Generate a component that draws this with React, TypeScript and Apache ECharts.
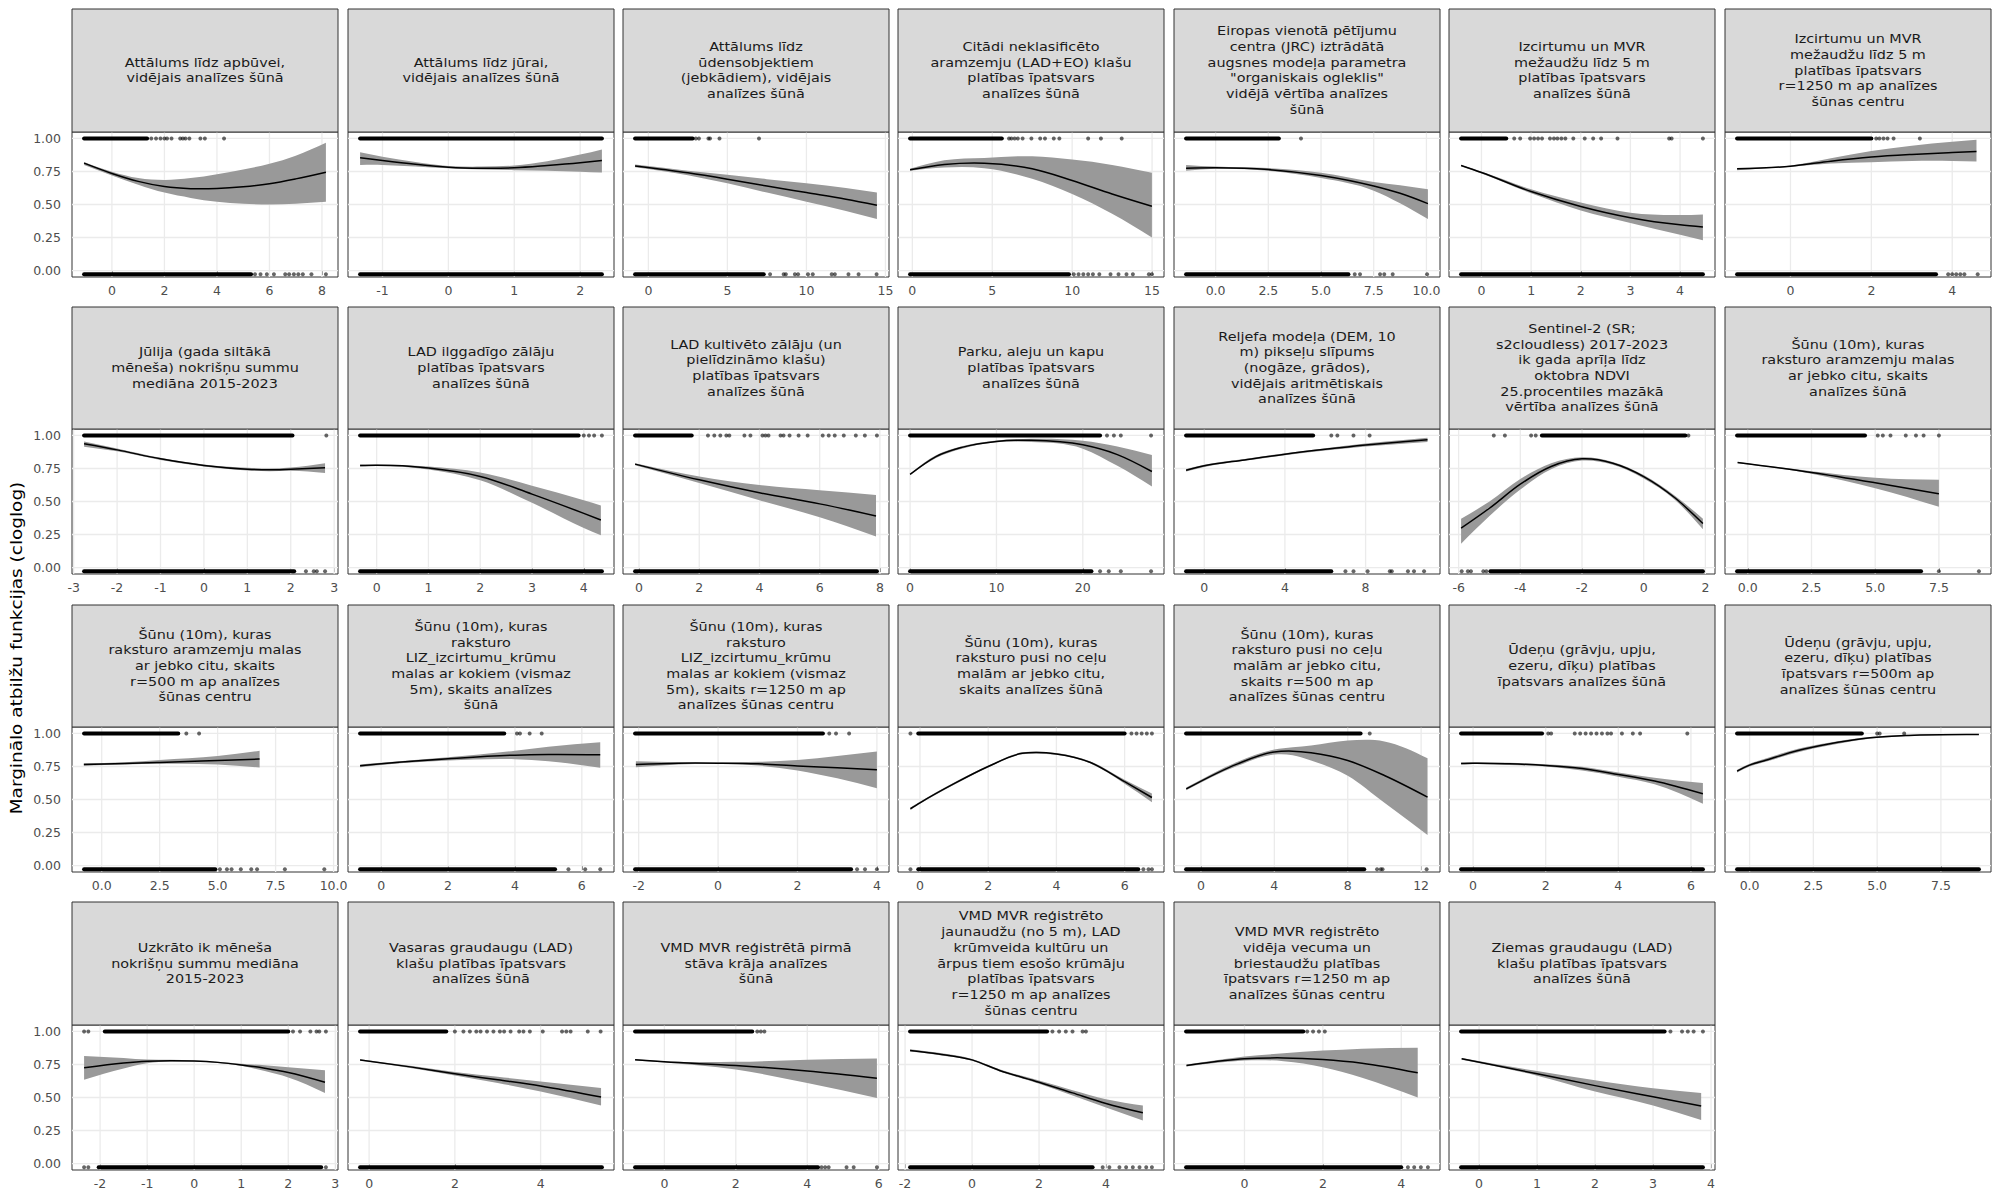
import React, { useEffect, useRef } from "react";
import * as echarts from "echarts";

// ---------------- DATA ----------------
const facetTitles: string[] = [
  "Attālums līdz apbūvei,\nvidējais analīzes šūnā",
  "Attālums līdz jūrai,\nvidējais analīzes šūnā",
  "Attālums līdz\nūdensobjektiem\n(jebkādiem), vidējais\nanalīzes šūnā",
  "Citādi neklasificēto\naramzemju (LAD+EO) klašu\nplatības īpatsvars\nanalīzes šūnā",
  "Eiropas vienotā pētījumu\ncentra (JRC) iztrādātā\naugsnes modeļa parametra\n\"organiskais ogleklis\"\nvidējā vērtība analīzes\nšūnā",
  "Izcirtumu un MVR\nmežaudžu līdz 5 m\nplatības īpatsvars\nanalīzes šūnā",
  "Izcirtumu un MVR\nmežaudžu līdz 5 m\nplatības īpatsvars\nr=1250 m ap analīzes\nšūnas centru",
  "Jūlija (gada siltākā\nmēneša) nokrišņu summu\nmediāna 2015-2023",
  "LAD ilggadīgo zālāju\nplatības īpatsvars\nanalīzes šūnā",
  "LAD kultivēto zālāju (un\npielīdzināmo klašu)\nplatības īpatsvars\nanalīzes šūnā",
  "Parku, aleju un kapu\nplatības īpatsvars\nanalīzes šūnā",
  "Reljefa modeļa (DEM, 10\nm) pikseļu slīpums\n(nogāze, grādos),\nvidējais aritmētiskais\nanalīzes šūnā",
  "Sentinel-2 (SR;\ns2cloudless) 2017-2023\nik gada aprīļa līdz\noktobra NDVI\n25.procentiles mazākā\nvērtība analīzes šūnā",
  "Šūnu (10m), kuras\nraksturo aramzemju malas\nar jebko citu, skaits\nanalīzes šūnā",
  "Šūnu (10m), kuras\nraksturo aramzemju malas\nar jebko citu, skaits\nr=500 m ap analīzes\nšūnas centru",
  "Šūnu (10m), kuras\nraksturo\nLIZ_izcirtumu_krūmu\nmalas ar kokiem (vismaz\n5m), skaits analīzes\nšūnā",
  "Šūnu (10m), kuras\nraksturo\nLIZ_izcirtumu_krūmu\nmalas ar kokiem (vismaz\n5m), skaits r=1250 m ap\nanalīzes šūnas centru",
  "Šūnu (10m), kuras\nraksturo pusi no ceļu\nmalām ar jebko citu,\nskaits analīzes šūnā",
  "Šūnu (10m), kuras\nraksturo pusi no ceļu\nmalām ar jebko citu,\nskaits r=500 m ap\nanalīzes šūnas centru",
  "Ūdeņu (grāvju, upju,\nezeru, dīķu) platības\nīpatsvars analīzes šūnā",
  "Ūdeņu (grāvju, upju,\nezeru, dīķu) platības\nīpatsvars r=500m ap\nanalīzes šūnas centru",
  "Uzkrāto ik mēneša\nnokrišņu summu mediāna\n2015-2023",
  "Vasaras graudaugu (LAD)\nklašu platības īpatsvars\nanalīzes šūnā",
  "VMD MVR reģistrētā pirmā\nstāva krāja analīzes\nšūnā",
  "VMD MVR reģistrēto\njaunaudžu (no 5 m), LAD\nkrūmveida kultūru un\nārpus tiem esošo krūmāju\nplatības īpatsvars\nr=1250 m ap analīzes\nšūnas centru",
  "VMD MVR reģistrēto\nvidēja vecuma un\nbriestaudžu platības\nīpatsvars r=1250 m ap\nanalīzes šūnas centru",
  "Ziemas graudaugu (LAD)\nklašu platības īpatsvars\nanalīzes šūnā",
];

const xTicks: number[][] = [
  [0, 2, 4, 6, 8],
  [-1, 0, 1, 2],
  [0, 5, 10, 15],
  [0, 5, 10, 15],
  [0, 2.5, 5, 7.5, 10],
  [0, 1, 2, 3, 4],
  [0, 2, 4],
  [-3, -2, -1, 0, 1, 2, 3],
  [0, 1, 2, 3, 4],
  [0, 2, 4, 6, 8],
  [0, 10, 20],
  [0, 4, 8],
  [-6, -4, -2, 0, 2],
  [0, 2.5, 5, 7.5],
  [0, 2.5, 5, 7.5, 10],
  [0, 2, 4, 6],
  [-2, 0, 2, 4],
  [0, 2, 4, 6],
  [0, 4, 8, 12],
  [0, 2, 4, 6],
  [0, 2.5, 5, 7.5],
  [-2, -1, 0, 1, 2, 3],
  [0, 2, 4],
  [0, 2, 4, 6],
  [-2, 0, 2, 4],
  [0, 2, 4],
  [0, 1, 2, 3, 4],
];

const xTickDecimals: number[] = [
  0, 0, 0, 0, 1, 0, 0,
  0, 0, 0, 0, 0, 0, 1,
  1, 0, 0, 0, 0, 0, 1,
  0, 0, 0, 0, 0, 0,
];

// data extent of each facet's x variable (axis limits add 5 % on each side)
const xExtent: [number, number][] = [
  [-1.06, 8.15], [-1.34, 2.33], [-0.84, 14.46], [-0.14, 14.99], [-1.4, 10.07], [-0.41, 4.46], [-1.32, 4.66],
  [-2.76, 2.81], [-0.32, 4.35], [-0.13, 7.9], [0, 28], [-0.9, 11.09], [-5.92, 1.92], [-0.42, 9.07],
  [-0.76, 9.67], [-0.63, 6.6], [-2.09, 4.0], [-0.29, 6.8], [-0.81, 12.37], [-0.33, 6.33], [-0.49, 8.99],
  [-2.34, 2.8], [-0.21, 5.43], [-0.82, 5.95], [-1.85, 5.37], [-1.49, 4.68], [-0.31, 3.86],
];

// marginal response: [x, fit, lower, upper]
const fits: number[][][] = [
  [[-1.06, 0.813, 0.8, 0.822], [0, 0.735, 0.72, 0.748], [1, 0.675, 0.65, 0.7], [2, 0.636, 0.59, 0.685], [3, 0.62, 0.55, 0.7], [4, 0.621, 0.52, 0.73], [5, 0.634, 0.505, 0.765], [6, 0.657, 0.5, 0.808], [7, 0.694, 0.505, 0.87], [8.15, 0.745, 0.52, 0.967]],
  [[-1.34, 0.854, 0.8, 0.896], [-1, 0.833, 0.8, 0.862], [-0.5, 0.805, 0.788, 0.822], [0, 0.783, 0.775, 0.792], [0.5, 0.775, 0.765, 0.787], [1, 0.778, 0.76, 0.795], [1.5, 0.795, 0.755, 0.828], [2, 0.816, 0.748, 0.878], [2.33, 0.833, 0.742, 0.917]],
  [[-0.84, 0.792, 0.782, 0.802], [2.5, 0.74, 0.722, 0.756], [5, 0.692, 0.66, 0.725], [7.5, 0.64, 0.59, 0.692], [10, 0.59, 0.52, 0.66], [12.5, 0.54, 0.45, 0.625], [14.46, 0.495, 0.39, 0.59]],
  [[-0.14, 0.763, 0.755, 0.77], [2, 0.803, 0.78, 0.835], [4.5, 0.813, 0.775, 0.853], [7.5, 0.77, 0.695, 0.865], [10, 0.682, 0.58, 0.84], [12.5, 0.58, 0.43, 0.8], [14.99, 0.487, 0.25, 0.74]],
  [[-1.4, 0.775, 0.755, 0.8], [0, 0.778, 0.77, 0.787], [2.5, 0.765, 0.755, 0.776], [5, 0.72, 0.7, 0.74], [7.5, 0.64, 0.605, 0.67], [8.75, 0.585, 0.51, 0.645], [10.07, 0.507, 0.39, 0.615]],
  [[-0.41, 0.795, 0.79, 0.8], [0, 0.742, 0.735, 0.75], [1, 0.598, 0.585, 0.615], [2, 0.485, 0.455, 0.515], [3, 0.4, 0.36, 0.437], [4, 0.346, 0.27, 0.42], [4.46, 0.33, 0.23, 0.425]],
  [[-1.32, 0.77, 0.76, 0.777], [0, 0.79, 0.785, 0.795], [1, 0.828, 0.81, 0.85], [2, 0.859, 0.82, 0.905], [3, 0.879, 0.83, 0.945], [4, 0.894, 0.83, 0.975], [4.6, 0.902, 0.825, 0.99]],
  [[-2.76, 0.937, 0.915, 0.955], [-2, 0.891, 0.88, 0.902], [-1, 0.823, 0.815, 0.831], [0, 0.773, 0.765, 0.781], [1, 0.745, 0.735, 0.755], [1.5, 0.74, 0.73, 0.75], [2, 0.745, 0.733, 0.757], [2.79, 0.755, 0.715, 0.79]],
  [[-0.32, 0.773, 0.765, 0.78], [0, 0.775, 0.77, 0.78], [0.5, 0.77, 0.763, 0.777], [1, 0.753, 0.742, 0.765], [2, 0.69, 0.66, 0.72], [3, 0.556, 0.49, 0.62], [4, 0.41, 0.3, 0.51], [4.33, 0.36, 0.245, 0.47]],
  [[-0.13, 0.783, 0.775, 0.79], [2, 0.664, 0.64, 0.69], [4, 0.566, 0.51, 0.625], [6, 0.482, 0.38, 0.585], [7.87, 0.391, 0.235, 0.55]],
  [[0, 0.705, 0.7, 0.71], [3, 0.84, 0.83, 0.85], [6, 0.91, 0.9, 0.918], [10, 0.955, 0.948, 0.962], [14, 0.963, 0.95, 0.975], [20, 0.929, 0.9, 0.96], [24, 0.855, 0.77, 0.917], [28, 0.727, 0.614, 0.853]],
  [[-0.9, 0.737, 0.728, 0.746], [0, 0.77, 0.762, 0.778], [2, 0.815, 0.808, 0.822], [4, 0.858, 0.85, 0.866], [6, 0.895, 0.886, 0.904], [8, 0.928, 0.917, 0.939], [10, 0.955, 0.94, 0.968], [11.07, 0.967, 0.95, 0.982]],
  [[-5.92, 0.298, 0.18, 0.37], [-5, 0.449, 0.39, 0.5], [-4, 0.631, 0.59, 0.67], [-3, 0.765, 0.745, 0.79], [-2, 0.823, 0.81, 0.835], [-1, 0.79, 0.778, 0.8], [0, 0.689, 0.675, 0.7], [1, 0.53, 0.515, 0.545], [1.92, 0.333, 0.29, 0.37]],
  [[-0.4, 0.795, 0.79, 0.8], [2.5, 0.72, 0.71, 0.73], [5, 0.642, 0.6, 0.68], [7.5, 0.558, 0.46, 0.664]],
  [[-0.77, 0.765, 0.755, 0.775], [1, 0.772, 0.765, 0.782], [2.5, 0.78, 0.77, 0.8], [5, 0.795, 0.765, 0.83], [6.81, 0.806, 0.742, 0.869]],
  [[-0.63, 0.755, 0.745, 0.765], [0, 0.77, 0.762, 0.778], [2, 0.808, 0.795, 0.82], [4, 0.836, 0.805, 0.87], [5, 0.84, 0.79, 0.9], [6.55, 0.838, 0.74, 0.934]],
  [[-2.07, 0.765, 0.745, 0.79], [-1, 0.775, 0.765, 0.783], [0, 0.775, 0.77, 0.78], [1, 0.77, 0.757, 0.785], [2, 0.753, 0.72, 0.8], [3, 0.74, 0.66, 0.83], [4, 0.725, 0.585, 0.864]],
  [[-0.28, 0.43, 0.42, 0.44], [0, 0.475, 0.467, 0.483], [1, 0.62, 0.612, 0.628], [2, 0.75, 0.743, 0.757], [3, 0.85, 0.843, 0.857], [3.4, 0.856, 0.849, 0.863], [4, 0.845, 0.838, 0.852], [5, 0.78, 0.772, 0.788], [6, 0.635, 0.62, 0.65], [6.8, 0.515, 0.48, 0.545]],
  [[-0.8, 0.58, 0.57, 0.59], [2, 0.77, 0.755, 0.785], [4, 0.86, 0.84, 0.878], [5, 0.866, 0.835, 0.895], [6, 0.854, 0.795, 0.909], [8, 0.795, 0.68, 0.947], [10, 0.682, 0.475, 0.94], [12.35, 0.518, 0.232, 0.813]],
  [[-0.33, 0.773, 0.765, 0.78], [0, 0.775, 0.768, 0.782], [1, 0.77, 0.762, 0.778], [2, 0.758, 0.75, 0.767], [3, 0.735, 0.72, 0.748], [4, 0.69, 0.673, 0.705], [5, 0.64, 0.615, 0.665], [6.33, 0.543, 0.467, 0.624]],
  [[-0.49, 0.715, 0.705, 0.725], [0, 0.76, 0.75, 0.77], [0.63, 0.797, 0.785, 0.81], [1.9, 0.871, 0.858, 0.884], [3.1, 0.92, 0.908, 0.93], [4.4, 0.96, 0.952, 0.967], [6.25, 0.985, 0.98, 0.99], [8.99, 0.992, 0.988, 0.995]],
  [[-2.34, 0.725, 0.635, 0.815], [-1.5, 0.762, 0.72, 0.8], [-1, 0.775, 0.76, 0.787], [-0.5, 0.779, 0.772, 0.785], [0, 0.776, 0.772, 0.78], [0.5, 0.766, 0.762, 0.77], [1, 0.747, 0.74, 0.755], [1.5, 0.722, 0.7, 0.745], [2, 0.69, 0.652, 0.73], [2.78, 0.616, 0.535, 0.707]],
  [[-0.21, 0.785, 0.78, 0.79], [1, 0.73, 0.722, 0.738], [2, 0.68, 0.667, 0.694], [3, 0.634, 0.61, 0.657], [4, 0.587, 0.545, 0.622], [5.41, 0.503, 0.44, 0.571]],
  [[-0.82, 0.785, 0.78, 0.79], [0, 0.77, 0.765, 0.775], [2, 0.742, 0.712, 0.77], [4, 0.7, 0.61, 0.785], [5.95, 0.646, 0.497, 0.795]],
  [[-1.85, 0.856, 0.848, 0.865], [-1, 0.83, 0.822, 0.838], [0, 0.785, 0.778, 0.792], [0.82, 0.705, 0.697, 0.713], [2, 0.616, 0.605, 0.628], [3, 0.535, 0.515, 0.555], [4, 0.455, 0.425, 0.487], [5.1, 0.384, 0.325, 0.44]],
  [[-1.48, 0.742, 0.735, 0.75], [-0.5, 0.78, 0.768, 0.792], [0, 0.793, 0.78, 0.81], [1, 0.8, 0.775, 0.835], [2, 0.788, 0.73, 0.855], [3, 0.76, 0.65, 0.87], [4.42, 0.687, 0.5, 0.876]],
  [[-0.3, 0.793, 0.785, 0.8], [1, 0.68, 0.665, 0.7], [2, 0.59, 0.545, 0.63], [3, 0.505, 0.44, 0.57], [3.83, 0.435, 0.33, 0.535]],
];

// observations (presence = 1, absence = 0): dense runs and isolated points
const topDense: [number, number][] = [
  [-1.06, 1.34], [-1.34, 2.33], [-0.84, 2.8], [-0.14, 5.6], [-1.4, 3.0], [-0.41, 0.5], [-1.32, 2.0],
  [-2.76, 2.04], [-0.32, 3.9], [-0.13, 1.75], [0, 22], [-0.9, 5.4], [-3.3, 1.35], [-0.42, 4.6],
  [-0.76, 3.3], [-0.63, 3.68], [-2.09, 2.64], [-0.05, 6.0], [-0.81, 8.7], [-0.33, 1.9], [-0.49, 4.4],
  [-1.9, 2.0], [-0.21, 1.8], [-0.82, 2.46], [-1.85, 2.24], [-1.49, 1.5], [-0.31, 3.2],
];
const topSparse: number[][] = [
  [1.5, 1.68, 1.85, 2.0, 2.1, 2.27, 2.6, 2.7, 2.8, 2.95, 3.37, 3.54, 4.27],
  [],
  [3.0, 3.2, 3.8, 3.9, 4.5, 7.0],
  [6.05, 6.2, 6.4, 6.6, 6.9, 7.45, 8.0, 8.3, 8.85, 9.2, 11.0, 11.8, 13.1],
  [4.05],
  [0.66, 0.78, 0.98, 1.06, 1.14, 1.22, 1.38, 1.46, 1.53, 1.61, 1.69, 1.85, 2.08, 2.25, 2.41, 2.74, 3.78, 3.83, 4.46],
  [2.12, 2.2, 2.3, 2.4, 2.55, 3.2],
  [2.82],
  [4.0, 4.1, 4.2, 4.35],
  [2.29, 2.5, 2.7, 2.9, 3.0, 3.5, 3.7, 4.1, 4.2, 4.3, 4.7, 4.8, 5.0, 5.3, 5.6, 6.1, 6.3, 6.5, 6.8, 7.2, 7.5, 7.9],
  [22.8, 23.6, 24.4, 27.9],
  [6.3, 6.6, 7.4, 8.2],
  [-4.86, -4.5, -3.65, -3.5, 1.45],
  [5.1, 5.3, 5.6, 6.2, 6.6, 6.9, 7.5],
  [3.65, 4.2],
  [4.06, 4.15, 4.44, 4.8],
  [2.8, 2.97, 3.3],
  [-0.28, 6.2, 6.35, 6.5, 6.65, 6.8],
  [9.2],
  [2.07, 2.15, 2.8, 2.95, 3.1, 3.25, 3.4, 3.55, 3.7, 3.8, 4.1, 4.4, 4.6, 5.9],
  [5.0, 5.1, 6.06],
  [-2.34, -2.25, 2.1, 2.25, 2.47, 2.6, 2.66, 2.8],
  [2.0, 2.2, 2.35, 2.5, 2.6, 2.75, 2.9, 3.05, 3.15, 3.3, 3.5, 3.6, 3.75, 4.05, 4.5, 4.6, 4.7, 5.1, 5.4],
  [2.6, 2.7, 2.8],
  [2.4, 2.6, 2.8, 3.0, 3.3, 3.4],
  [1.6, 1.75, 1.9, 2.05],
  [3.3, 3.5, 3.6, 3.7, 3.86],
];
const bottomDense: [number, number][] = [
  [-1.06, 5.3], [-1.34, 2.33], [-0.84, 7.3], [-0.14, 9.8], [-1.4, 6.3], [-0.41, 4.46], [-1.32, 3.6],
  [-2.76, 2.08], [-0.32, 4.35], [-0.13, 7.9], [0, 21], [-0.9, 6.3], [-4.97, 1.92], [-0.42, 6.8],
  [-0.76, 4.9], [-0.63, 5.2], [-2.09, 3.35], [-0.05, 6.4], [-0.81, 8.9], [-0.33, 6.33], [-0.49, 8.99],
  [-2.03, 2.7], [-0.21, 5.43], [-0.82, 4.3], [-1.85, 3.6], [-1.49, 4.0], [-0.31, 3.86],
];
const bottomSparse: number[][] = [
  [5.45, 5.66, 5.9, 6.17, 6.6, 6.75, 6.93, 7.1, 7.27, 7.6, 8.15],
  [],
  [7.7, 8.56, 8.7, 9.27, 9.47, 10.1, 10.4, 11.6, 11.8, 12.66, 13.3, 14.44],
  [10.1, 10.4, 10.7, 11.0, 11.3, 11.7, 12.4, 12.9, 13.4, 13.8, 14.8, 14.99],
  [6.6, 6.85, 7.8, 8.0, 8.4, 10.03],
  [],
  [3.9, 4.0, 4.1, 4.2, 4.3, 4.63],
  [2.35, 2.53, 2.6, 2.79],
  [],
  [],
  [22, 23, 24.4, 27.9],
  [7.0, 7.4, 8.1, 9.2, 9.3, 10.1, 10.4, 10.9],
  [-5.9, -5.7, -5.6, -5.2, -5.1],
  [7.5, 9.07],
  [5.1, 5.4, 5.6, 6.0, 6.45, 6.7, 7.9, 9.6],
  [5.6, 6.1, 6.55],
  [3.5, 3.7, 4.0],
  [-0.28, 6.55, 6.7, 6.8],
  [9.6, 9.8, 9.9, 12.3],
  [],
  [],
  [-2.34, -2.25, 2.8],
  [],
  [4.4, 4.5, 4.6, 5.1, 5.3, 5.95],
  [3.9, 4.1, 4.4, 4.6, 4.8, 5.0, 5.2, 5.37],
  [4.17, 4.33, 4.5, 4.68],
  [],
];

const yTicks: number[] = [0, 0.25, 0.5, 0.75, 1];
const yAxisTitle = "Marginālo atbilžu funkcijas (cloglog)";
const presenceY = 1;
const absenceY = -0.028;

// ---------------- LAYOUT ----------------
const N_COLS = 7;
const COL_LEFT0 = 72.3;
const COL_PITCH = 275.4;
const PANEL_W = 266;
const ROW_TOP0 = 9.3;
const ROW_PITCH = 297.7;
const STRIP_H = 122.3;
const PLOT_H = 145;
const Y_MIN = -0.049;
const Y_MAX = 1.049;
const FONT = "DejaVu Sans";

// ---------- smooth drawing helpers (cubic through pixel points) ----------
function tangents(pts: number[][]): number[] {
  const n = pts.length;
  const t: number[] = new Array(n).fill(0);
  if (n < 2) return t;
  const h: number[] = [];
  const s: number[] = [];
  for (let i = 0; i < n - 1; i++) {
    h[i] = pts[i + 1][0] - pts[i][0];
    s[i] = h[i] !== 0 ? (pts[i + 1][1] - pts[i][1]) / h[i] : 0;
  }
  if (n === 2) {
    t[0] = s[0];
    t[1] = s[0];
    return t;
  }
  for (let i = 1; i < n - 1; i++) {
    t[i] = (s[i - 1] * h[i] + s[i] * h[i - 1]) / (h[i - 1] + h[i]);
  }
  t[0] = (3 * s[0] - t[1]) / 2;
  t[n - 1] = (3 * s[n - 2] - t[n - 2]) / 2;
  return t;
}

function traceForward(ctx: any, pts: number[][], move: boolean) {
  const n = pts.length;
  if (n === 0) return;
  const t = tangents(pts);
  if (move) ctx.moveTo(pts[0][0], pts[0][1]);
  else ctx.lineTo(pts[0][0], pts[0][1]);
  for (let i = 0; i < n - 1; i++) {
    const dx = (pts[i + 1][0] - pts[i][0]) / 3;
    ctx.bezierCurveTo(
      pts[i][0] + dx, pts[i][1] + t[i] * dx,
      pts[i + 1][0] - dx, pts[i + 1][1] - t[i + 1] * dx,
      pts[i + 1][0], pts[i + 1][1]
    );
  }
}

function traceBackward(ctx: any, pts: number[][]) {
  const n = pts.length;
  if (n === 0) return;
  const t = tangents(pts);
  ctx.lineTo(pts[n - 1][0], pts[n - 1][1]);
  for (let i = n - 2; i >= 0; i--) {
    const dx = (pts[i + 1][0] - pts[i][0]) / 3;
    ctx.bezierCurveTo(
      pts[i + 1][0] - dx, pts[i + 1][1] - t[i + 1] * dx,
      pts[i][0] + dx, pts[i][1] + t[i] * dx,
      pts[i][0], pts[i][1]
    );
  }
}

const SmoothCurve = (echarts as any).graphic.extendShape({
  type: "smoothCurve",
  shape: { points: [] as number[][] },
  buildPath(ctx: any, shape: any) {
    const pts = shape.points;
    if (!pts || pts.length < 2) return;
    traceForward(ctx, pts, true);
  },
});
const SmoothBand = (echarts as any).graphic.extendShape({
  type: "smoothBand",
  shape: { upper: [] as number[][], lower: [] as number[][] },
  buildPath(ctx: any, shape: any) {
    const up = shape.upper;
    const lo = shape.lower;
    if (!up || up.length < 2) return;
    traceForward(ctx, up, true);
    traceBackward(ctx, lo);
    ctx.closePath();
  },
});
(echarts as any).graphic.registerShape("smoothCurve", SmoothCurve);
(echarts as any).graphic.registerShape("smoothBand", SmoothBand);

function buildOption() {
  const grids: any[] = [];
  const xAxes: any[] = [];
  const yAxes: any[] = [];
  const series: any[] = [];
  const graphics: any[] = [];

  facetTitles.forEach((title, i) => {
    const col = i % N_COLS;
    const row = Math.floor(i / N_COLS);
    const left = Math.round(COL_LEFT0 + col * COL_PITCH);
    const stripTop = Math.round(ROW_TOP0 + row * ROW_PITCH);
    const plotTop = Math.round(ROW_TOP0 + row * ROW_PITCH + STRIP_H);
    const [lo, hi] = xExtent[i];
    const pad = 0.05 * (hi - lo);
    const xMin = lo - pad;
    const xMax = hi + pad;
    const ticks = xTicks[i].filter((v) => v >= xMin && v <= xMax);
    const dec = xTickDecimals[i];

    grids.push({
      left,
      top: plotTop,
      width: PANEL_W,
      height: PLOT_H,
      show: true,
      borderColor: "#333333",
      borderWidth: 1,
      backgroundColor: "#ffffff",
      containLabel: false,
      outerBoundsMode: "none",
    });

    xAxes.push({
      type: "value",
      gridIndex: i,
      min: xMin,
      max: xMax,
      axisLine: { show: false },
      splitLine: { show: false },
      axisTick: {
        show: true,
        customValues: ticks,
        length: 4.5,
        lineStyle: { color: "#333333", width: 1 },
      },
      axisLabel: {
        show: true,
        customValues: ticks,
        formatter: (v: number) => v.toFixed(dec),
        color: "#4D4D4D",
        fontSize: 12.5,
        fontFamily: FONT,
        margin: 7,
      },
    });

    const firstCol = col === 0;
    yAxes.push({
      type: "value",
      gridIndex: i,
      min: Y_MIN,
      max: Y_MAX,
      axisLine: { show: false },
      splitLine: { show: false },
      axisTick: {
        show: firstCol,
        customValues: yTicks,
        length: 4.5,
        lineStyle: { color: "#333333", width: 1 },
      },
      axisLabel: {
        show: firstCol,
        customValues: yTicks,
        formatter: (v: number) => v.toFixed(2),
        color: "#4D4D4D",
        fontSize: 12.5,
        fontFamily: FONT,
        margin: 11,
      },
    });

    // grid lines (major)
    const gridData: number[][] = [
      ...ticks.map((v) => [v, 0, 0]),
      ...yTicks.map((v) => [xMin, v, 1]),
    ];
    series.push({
      type: "custom",
      xAxisIndex: i,
      yAxisIndex: i,
      z: 1,
      silent: true,
      data: gridData,
      encode: { x: 0, y: 1 },
      renderItem: (_params: any, api: any) => {
        const kind = api.value(2);
        let p1: number[];
        let p2: number[];
        if (kind === 0) {
          p1 = api.coord([api.value(0), Y_MIN]);
          p2 = api.coord([api.value(0), Y_MAX]);
        } else {
          p1 = api.coord([xMin, api.value(1)]);
          p2 = api.coord([xMax, api.value(1)]);
        }
        return {
          type: "line",
          shape: { x1: p1[0], y1: p1[1], x2: p2[0], y2: p2[1] },
          style: { stroke: "#EBEBEB", lineWidth: 1.3 },
        };
      },
    });

    const fit = fits[i];
    // confidence ribbon
    series.push({
      type: "custom",
      xAxisIndex: i,
      yAxisIndex: i,
      z: 2,
      silent: true,
      data: fit,
      encode: { x: 0, y: [2, 3] },
      renderItem: (params: any, api: any) => {
        if (params.dataIndex !== 0) return null;
        const upper = fit.map((f) => api.coord([f[0], f[3]]));
        const lower = fit.map((f) => api.coord([f[0], f[2]]));
        return {
          type: "smoothBand",
          shape: { upper, lower },
          style: { fill: "#999999", stroke: "none" },
        };
      },
    });
    // fitted curve
    series.push({
      type: "custom",
      xAxisIndex: i,
      yAxisIndex: i,
      z: 3,
      silent: true,
      data: fit,
      encode: { x: 0, y: 1 },
      renderItem: (params: any, api: any) => {
        if (params.dataIndex !== 0) return null;
        const points = fit.map((f) => api.coord([f[0], f[1]]));
        return {
          type: "smoothCurve",
          shape: { points },
          style: { fill: "none", stroke: "#000000", lineWidth: 1.5 },
        };
      },
    });
    // observations: dense runs
    series.push({
      type: "line",
      xAxisIndex: i,
      yAxisIndex: i,
      data: [
        [topDense[i][0], presenceY],
        [topDense[i][1], presenceY],
      ],
      symbol: "none",
      lineStyle: { color: "#000000", width: 4, cap: "round" },
      z: 4,
      silent: true,
    });
    series.push({
      type: "line",
      xAxisIndex: i,
      yAxisIndex: i,
      data: [
        [bottomDense[i][0], absenceY],
        [bottomDense[i][1], absenceY],
      ],
      symbol: "none",
      lineStyle: { color: "#000000", width: 4, cap: "round" },
      z: 4,
      silent: true,
    });
    // observations: isolated points
    series.push({
      type: "scatter",
      xAxisIndex: i,
      yAxisIndex: i,
      data: [
        ...topSparse[i].map((x) => [x, presenceY]),
        ...bottomSparse[i].map((x) => [x, absenceY]),
      ],
      symbol: "circle",
      symbolSize: 4,
      itemStyle: { color: "rgba(0,0,0,0.75)" },
      z: 4,
      silent: true,
    });

    // facet strip
    graphics.push({
      type: "rect",
      silent: true,
      z: 10,
      shape: { x: left, y: stripTop, width: PANEL_W, height: plotTop - stripTop },
      style: { fill: "#D9D9D9", stroke: "#333333", lineWidth: 1 },
    });
    graphics.push({
      type: "text",
      silent: true,
      z: 11,
      x: left + PANEL_W / 2,
      y: (stripTop + plotTop) / 2,
      scaleX: 1.2,
      scaleY: 1,
      style: {
        text: title,
        fill: "#1A1A1A",
        fontSize: 12,
        fontFamily: FONT,
        lineHeight: 15.7,
        align: "center",
        verticalAlign: "middle",
        textAlign: "center",
        textVerticalAlign: "middle",
      },
    });
  });

  graphics.push({
    type: "text",
    silent: true,
    z: 11,
    x: 17,
    y: 648,
    rotation: Math.PI / 2,
    scaleX: 1.23,
    scaleY: 1,
    style: {
      text: yAxisTitle,
      fill: "#000000",
      fontSize: 15,
      fontFamily: FONT,
      align: "center",
      verticalAlign: "middle",
      textAlign: "center",
      textVerticalAlign: "middle",
    },
  });

  return {
    animation: false,
    backgroundColor: "#ffffff",
    grid: grids,
    xAxis: xAxes,
    yAxis: yAxes,
    series,
    graphic: graphics,
  };
}

export default function App() {
  const ref = useRef<HTMLDivElement>(null);
  useEffect(() => {
    if (!ref.current) return;
    const chart = echarts.init(ref.current, null, { renderer: "svg" });
    chart.setOption(buildOption() as any);
    return () => chart.dispose();
  }, []);
  return (
    <div
      ref={ref}
      style={{ position: "fixed", left: 0, top: 0, width: 2000, height: 1200, background: "#fff" }}
    />
  );
}
